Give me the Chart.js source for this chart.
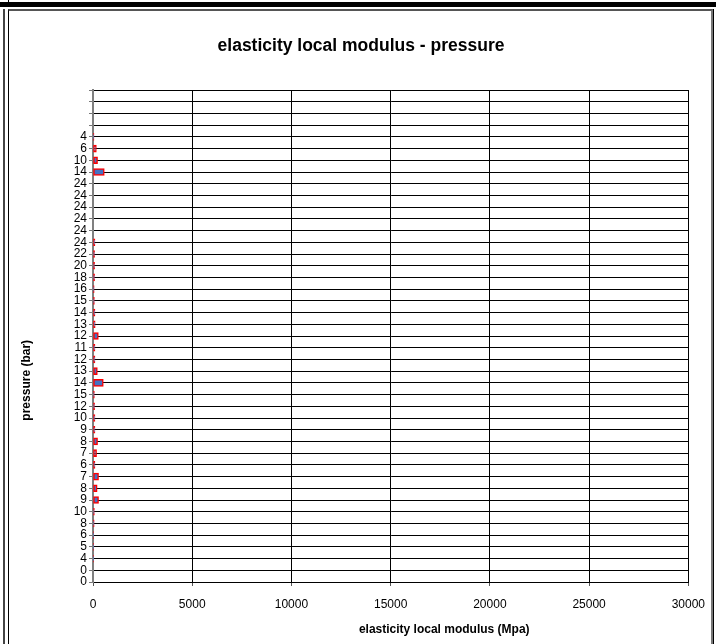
<!DOCTYPE html>
<html>
<head>
<meta charset="utf-8">
<script src="https://cdn.jsdelivr.net/npm/chart.js@4.4.1/dist/chart.umd.min.js"></script>
<style>
body { margin: 0; background: #fff; overflow: hidden; }
#wrap { position: relative; width: 716px; height: 644px; }
.ln { position: absolute; }
#graph { position: absolute; left: 0; top: 0; }
</style>
</head>
<body>
<div id="wrap">
	<div class="ln" style="left:0;top:2px;width:716px;height:5px;background:#000"></div>
	<div class="ln" style="left:8px;top:0;width:1px;height:3px;background:#000"></div>
	<div class="ln" style="left:3px;top:9px;width:2px;height:635px;background:#444"></div>
	<div class="ln" style="left:8px;top:9px;width:702px;height:700px;border-left:1px solid #000;border-top:2px solid #555;border-right:2px solid #777"></div>
	<div class="ln" style="left:713px;top:9px;width:1px;height:635px;background:#000"></div>
	<canvas id="graph" width="716" height="644"></canvas>
</div>
<script>
// pressure labels, top to bottom as in the sheet
var pressures = ['', '', '', '', '4', '6', '10', '14', '24', '24', '24', '24', '24', '24', '22', '20', '18', '16', '15', '14', '13', '12', '11', '12', '13', '14', '15', '12', '10', '9', '8', '7', '6', '7', '8', '9', '10', '8', '6', '5', '4', '0', '0'];
// elasticity local modulus (Mpa)
var modulus = [null, null, null, null, 50, 170, 230, 570, 0, 0, 0, 0, 0, 100, 80, 80, 80, 60, 70, 100, 110, 270, 100, 100, 220, 520, 70, 80, 100, 100, 230, 180, 100, 280, 210, 280, 70, 60, 20, 20, 20, 0, 0];
var xTicks = [0, 5000, 10000, 15000, 20000, 25000, 30000];

Chart.defaults.color = '#000';
Chart.defaults.font.family = '"Liberation Sans", Arial, sans-serif';

// titles, placed like in the excel sheet
var titles = {
	id: 'titles',
	afterDraw: function(chart){
		var ctx = chart.ctx;
		var a = chart.chartArea;
		ctx.save();
		ctx.fillStyle = '#000';
		ctx.textAlign = 'center';
		ctx.textBaseline = 'middle';
		ctx.font = 'bold 17.5px "Liberation Sans", Arial, sans-serif';
		ctx.fillText('elasticity local modulus - pressure', chart.width / 2 + 3, 46);
		ctx.font = 'bold 12px "Liberation Sans", Arial, sans-serif';
		ctx.fillText('elasticity local modulus (Mpa)', a.left + (a.right - a.left) * 0.59, 630);
		ctx.translate(27, a.top + (a.bottom - a.top) * 0.59);
		ctx.rotate(-Math.PI / 2);
		ctx.fillText('pressure (bar)', 0, 0);
		ctx.restore();
	}
};

var ctx = document.getElementById('graph').getContext('2d');
var myChart = new Chart(ctx, {
	type: 'bar',
	data: {
		labels: pressures,
		datasets: [{
			label: 'modulus',
			data: modulus,
			backgroundColor: '#4472C4',
			borderColor: '#FF0000',
			borderWidth: 1.5,
			borderSkipped: false,
			barThickness: 7
		}]
	},
	options: {
		indexAxis: 'y',
		responsive: false,
		animation: false,
		layout: { padding: { left: 0, right: 26, top: 90, bottom: 0 } },
		plugins: {
			legend: { display: false },
			tooltip: { enabled: false },
			title: { display: false }
		},
		scales: {
			x: {
				type: 'linear',
				min: 0,
				max: 30000,
				afterBuildTicks: function(s){ s.ticks = xTicks.map(function(v){ return { value: v }; }); },
				afterFit: function(s){ s.height = 62; },
				grid: { color: '#000', tickColor: '#555', tickLength: 4 },
				border: { color: '#000', width: 1 },
				ticks: {
					font: { size: 12 },
					padding: 11,
					maxRotation: 0,
					callback: function(v){ return String(v); }
				}
			},
			y: {
				type: 'category',
				offset: false,
				afterFit: function(s){ s.width = 93; },
				grid: { offset: false, color: '#000', tickColor: '#777', tickLength: 4 },
				border: { color: '#808080', width: 2 },
				ticks: { font: { size: 12 }, padding: 2, autoSkip: false }
			}
		}
	},
	plugins: [titles]
});
</script>
</body>
</html>
